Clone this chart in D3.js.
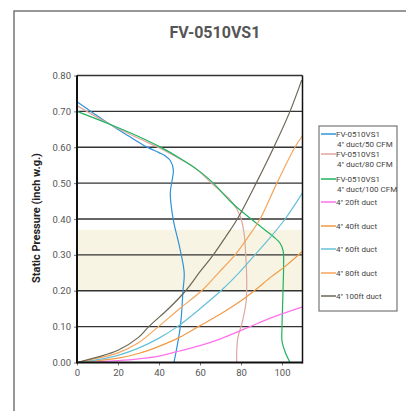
<!DOCTYPE html>
<html>
<head>
<meta charset="utf-8">
<script src="https://cdn.jsdelivr.net/npm/d3@7"></script>
<style>
  body { margin: 0; background: #fff; }
  text { font-family: Roboto, "DejaVu Sans", sans-serif; }
</style>
</head>
<body>
<script>
// fan curves [cfm, inch w.g.]
var fan50 = [[0,0.727],[8,0.695],[16,0.664],[25,0.632],[34,0.601],[40,0.585],[43,0.576],[45.5,0.563],[47,0.537],[46.4,0.508],[45.5,0.472],[47,0.397],[50,0.323],[52.3,0.25],[51.7,0.2],[50.4,0.1],[47.3,0]]
var fan80 = [[0,0.716],[16,0.664],[30,0.625],[40.5,0.597],[50,0.568],[56.7,0.546],[66.5,0.495],[75.5,0.448],[79.5,0.41],[81.5,0.36],[82.3,0.3],[82.8,0.23],[82.5,0.17],[80.5,0.11],[78.5,0.07],[77.9,0.03],[77.9,0]]
var fan100 = [[0,0.70],[16,0.664],[30,0.63],[40.5,0.601],[50,0.57],[60,0.532],[66.5,0.5],[75,0.448],[80,0.423],[86,0.395],[92,0.368],[96,0.35],[99,0.333],[100.6,0.31],[100.8,0.28],[100.5,0.2],[100,0.1],[100,0.06],[101.5,0.03],[103.9,0]]
// duct curves
var duct20 = [[0,0],[10,0.002],[20,0.005],[30,0.01],[40,0.018],[50,0.032],[60,0.047],[70,0.066],[84.4,0.10],[95,0.125],[110,0.155]]
var duct40 = [[0,0],[10,0.005],[20,0.012],[30,0.025],[40,0.045],[50,0.07],[59.2,0.10],[70,0.135],[80,0.172],[86.5,0.20],[95,0.24],[102,0.27],[110,0.31]]
var duct60 = [[0,0],[10,0.008],[20,0.02],[30,0.04],[40,0.068],[49,0.10],[60,0.15],[70.2,0.20],[79,0.25],[86.8,0.30],[94.5,0.35],[101.5,0.40],[110,0.473]]
var duct80 = [[0,0],[10,0.012],[20,0.027],[30,0.055],[39.7,0.10],[50,0.15],[60.8,0.20],[69,0.25],[77.1,0.30],[83.5,0.35],[89.3,0.40],[97.5,0.50],[106.3,0.60],[110,0.632]]
var duct100 = [[0,0],[10,0.015],[20,0.034],[30,0.07],[35,0.10],[45,0.152],[53,0.20],[60,0.253],[66.5,0.30],[72.5,0.35],[78.2,0.40],[87.4,0.50],[96,0.60],[103.9,0.70],[109.6,0.787]]

var seriesNames = ["FV-0510VS1|4\" duct/50 CFM", "FV-0510VS1|4\" duct/80 CFM", "FV-0510VS1|4\" duct/100 CFM",
                   "4\" 20ft duct", "4\" 40ft duct", "4\" 60ft duct", "4\" 80ft duct", "4\" 100ft duct"]
var seriesData = [fan50, fan80, fan100, duct20, duct40, duct60, duct80, duct100]
var seriesColors = ["#2f93d8", "#dea79f", "#1fb35e", "#ff70ec", "#f29a45", "#66c0da", "#f5a55a", "#6d6753"]

var xTicks = [0, 20, 40, 60, 80, 100]
var yTicks = [0, 0.1, 0.2, 0.3, 0.4, 0.5, 0.6, 0.7, 0.8]
var band = [0.2, 0.37]

var W = 406, H = 411
var svg = d3.select("body").append("svg").attr("width", W).attr("height", H)

// outer frame
svg.append("rect").attr("x", 14).attr("y", 11).attr("width", 420).attr("height", 420)
   .attr("fill", "none").attr("stroke", "#777").attr("stroke-width", 1.5)

svg.append("text").attr("x", 215).attr("y", 38).attr("text-anchor", "middle")
   .attr("font-size", 16).attr("font-weight", "bold").attr("fill", "#555")
   .text("FV-0510VS1")

var x = d3.scaleLinear().domain([0, 110]).range([77, 302.5])
var y = d3.scaleLinear().domain([0, 0.8]).range([362.5, 75.5])

// shaded band
svg.append("rect").attr("x", x(0)).attr("y", y(band[1]))
   .attr("width", x(110) - x(0)).attr("height", y(band[0]) - y(band[1]))
   .attr("fill", "#f8f4e3")

// grid
svg.append("g").selectAll("line").data(yTicks.slice(1)).join("line")
   .attr("x1", x(0)).attr("x2", x(110))
   .attr("y1", function(d) { return y(d); }).attr("y2", function(d) { return y(d); })
   .attr("stroke", "#333").attr("stroke-width", 1.3)

var line = d3.line().x(function(d) { return x(d[0]); }).y(function(d) { return y(d[1]); })
             .curve(d3.curveCatmullRom.alpha(0.5))

svg.append("g").selectAll("path").data(seriesData).join("path")
   .attr("d", line)
   .attr("fill", "none")
   .attr("stroke", function(d, i) { return seriesColors[i]; })
   .attr("stroke-width", 1.2)

// axes
var yAxis = svg.append("g").attr("transform", "translate(" + x(0) + ",0)")
   .call(d3.axisLeft(y).tickValues(yTicks).tickFormat(d3.format(".2f")).tickSize(3).tickPadding(3))
var xAxis = svg.append("g").attr("transform", "translate(0," + y(0) + ")")
   .call(d3.axisBottom(x).tickValues(xTicks).tickSize(3).tickPadding(4))
;[yAxis, xAxis].forEach(function(a) {
  a.select(".domain").remove()
  a.selectAll("text").attr("font-size", 9.5).attr("fill", "#555")
  a.selectAll(".tick line").attr("stroke", "#777")
})
svg.append("line").attr("x1", x(0)).attr("x2", x(0)).attr("y1", y(0.8)).attr("y2", y(0) + 1)
   .attr("stroke", "#111").attr("stroke-width", 2)
svg.append("line").attr("x1", x(0)).attr("x2", x(110)).attr("y1", y(0)).attr("y2", y(0))
   .attr("stroke", "#111").attr("stroke-width", 2)
svg.append("line").attr("x1", x(110)).attr("x2", x(110)).attr("y1", y(0.8)).attr("y2", y(0) + 1)
   .attr("stroke", "#111").attr("stroke-width", 1.5)

svg.append("text").attr("transform", "translate(40,218) rotate(-90)")
   .attr("text-anchor", "middle").attr("font-size", 11).attr("font-weight", "bold").attr("fill", "#222")
   .text("Static Pressure (inch w.g.)")

// legend
var legY = [134, 154, 179, 202, 226, 249, 273, 296]
svg.append("rect").attr("x", 319).attr("y", 126).attr("width", 78).attr("height", 185)
   .attr("fill", "#fff").attr("stroke", "#777").attr("stroke-width", 1.2)
var items = svg.append("g").selectAll("g").data(seriesNames).join("g")
   .attr("transform", function(d, i) { return "translate(0," + legY[i] + ")"; })
items.append("line").attr("x1", 321).attr("x2", 336)
   .attr("stroke", function(d, i) { return seriesColors[i]; }).attr("stroke-width", 1.5)
items.each(function(d) {
  var parts = d.split("|")
  var g = d3.select(this)
  parts.forEach(function(p, j) {
    g.append("text").attr("x", j == 0 ? 336 : 337).attr("y", 3 + j * 10)
     .attr("font-size", 8).attr("fill", "#444").text(p)
  })
})
</script>
</body>
</html>
